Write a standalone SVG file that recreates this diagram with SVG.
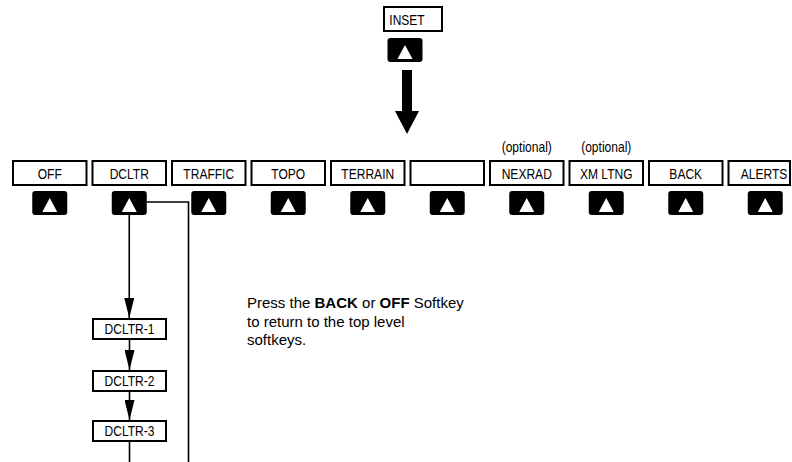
<svg xmlns="http://www.w3.org/2000/svg" width="792" height="462" viewBox="0 0 792 462">
<style>
.box{fill:#fff;stroke:#000;stroke-width:2}
.lbl{font-family:"Liberation Sans",Arial,sans-serif;font-size:14px;fill:#000;text-anchor:middle}
.para{font-family:"Liberation Sans",Arial,sans-serif;font-size:15px;fill:#000}
.ln{fill:none;stroke:#000;stroke-width:1.6}
</style>
<defs>
<g id="btn"><rect x="-17.5" y="0" width="35" height="24" rx="3" fill="#000"/><polygon points="-7.5,21 7.5,21 0,7" fill="#fff"/></g>
<marker id="ahd" viewBox="0 0 20 10" refX="20" refY="5" markerWidth="20" markerHeight="10" orient="auto" markerUnits="userSpaceOnUse"><path d="M0,0 L20,5 L0,10 z" fill="#000"/></marker>
</defs>

<g id="inset">
<rect class="box" x="384" y="7" width="58" height="24"/>
<text class="lbl" transform="translate(407,24.5) scale(0.86,1)">INSET</text>
<use href="#btn" x="405" y="38"/>
<rect x="402" y="70" width="10" height="42" fill="#000"/>
<polygon points="395,111 419,111 407,134" fill="#000"/>
</g>

<g id="off"><rect class="box" x="13" y="161" width="73.5" height="24"/><text class="lbl" transform="translate(49.75,179) scale(0.86,1)">OFF</text><use href="#btn" x="49.75" y="191"/></g>
<g id="dcltr"><rect class="box" x="92.5" y="161" width="73.5" height="24"/><text class="lbl" transform="translate(129.25,179) scale(0.86,1)">DCLTR</text><use href="#btn" x="129.25" y="191"/></g>
<g id="traffic"><rect class="box" x="172" y="161" width="73.5" height="24"/><text class="lbl" transform="translate(208.75,179) scale(0.86,1)">TRAFFIC</text><use href="#btn" x="208.75" y="191"/></g>
<g id="topo"><rect class="box" x="251.5" y="161" width="73.5" height="24"/><text class="lbl" transform="translate(288.25,179) scale(0.86,1)">TOPO</text><use href="#btn" x="288.25" y="191"/></g>
<g id="terrain"><rect class="box" x="331" y="161" width="73.5" height="24"/><text class="lbl" transform="translate(367.75,179) scale(0.86,1)">TERRAIN</text><use href="#btn" x="367.75" y="191"/></g>
<g id="blank"><rect class="box" x="410.5" y="161" width="73.5" height="24"/><use href="#btn" x="447.25" y="191"/></g>
<g id="nexrad"><text class="lbl" transform="translate(526.75,152) scale(0.86,1)">(optional)</text><rect class="box" x="490" y="161" width="73.5" height="24"/><text class="lbl" transform="translate(526.75,179) scale(0.86,1)">NEXRAD</text><use href="#btn" x="526.75" y="191"/></g>
<g id="xmltng"><text class="lbl" transform="translate(606.25,152) scale(0.86,1)">(optional)</text><rect class="box" x="569.5" y="161" width="73.5" height="24"/><text class="lbl" transform="translate(606.25,179) scale(0.86,1)">XM LTNG</text><use href="#btn" x="606.25" y="191"/></g>
<g id="back"><rect class="box" x="649" y="161" width="73.5" height="24"/><text class="lbl" transform="translate(685.75,179) scale(0.86,1)">BACK</text><use href="#btn" x="685.75" y="191"/></g>
<g id="alerts"><rect class="box" x="728.5" y="161" width="61.5" height="24"/><text class="lbl" transform="translate(764,179) scale(0.86,1)">ALERTS</text><use href="#btn" x="765.25" y="191"/></g>

<g id="dcltr1"><rect class="box" x="93" y="319" width="73" height="20"/><text class="lbl" transform="translate(129.5,334) scale(0.86,1)">DCLTR-1</text></g>
<g id="dcltr2"><rect class="box" x="93" y="371" width="73" height="20"/><text class="lbl" transform="translate(129.5,386) scale(0.86,1)">DCLTR-2</text></g>
<g id="dcltr3"><rect class="box" x="93" y="421" width="73" height="20"/><text class="lbl" transform="translate(129.5,436) scale(0.86,1)">DCLTR-3</text></g>

<g id="connectors">
<line class="ln" x1="129.25" y1="215" x2="129.25" y2="318" marker-end="url(#ahd)"/>
<line class="ln" x1="129.5" y1="340" x2="129.5" y2="370" marker-end="url(#ahd)"/>
<line class="ln" x1="129.5" y1="392" x2="129.5" y2="420" marker-end="url(#ahd)"/>
<line class="ln" x1="129.5" y1="442" x2="129.5" y2="462"/>
<polyline class="ln" points="146.75,202 188.5,202 188.5,462"/>
</g>

<g id="note">
<text class="para" x="247" y="308">Press the <tspan font-weight="bold">BACK</tspan> or <tspan font-weight="bold">OFF</tspan> Softkey</text>
<text class="para" x="247" y="326.5">to return to the top level</text>
<text class="para" x="247" y="345">softkeys.</text>
</g>
</svg>
